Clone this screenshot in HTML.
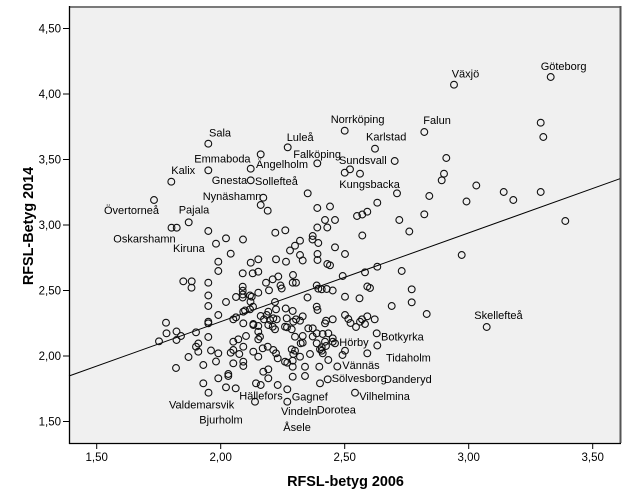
<!DOCTYPE html>
<html>
<head>
<meta charset="utf-8">
<title>RFSL scatter</title>
</head>
<body style="margin:0;padding:0;background:#fff;">
<svg width="629" height="504" viewBox="0 0 629 504" xmlns="http://www.w3.org/2000/svg" style="display:block">
<rect x="0" y="0" width="629" height="504" fill="#fff"/>
<rect x="69" y="7" width="551" height="436" fill="#f0f0f0"/>
<line x1="69" y1="7" x2="621" y2="7" stroke="#7a7a7a" stroke-width="2"/>
<line x1="620.5" y1="6" x2="620.5" y2="443" stroke="#555" stroke-width="2"/>
<line x1="69.5" y1="6" x2="69.5" y2="444" stroke="#000" stroke-width="1.3"/>
<line x1="69" y1="443.5" x2="621" y2="443.5" stroke="#000" stroke-width="1.3"/>
<g stroke="#000" stroke-width="1">
<line x1="63" y1="28.5" x2="69" y2="28.5"/>
<line x1="63" y1="94" x2="69" y2="94"/>
<line x1="63" y1="159.5" x2="69" y2="159.5"/>
<line x1="63" y1="225" x2="69" y2="225"/>
<line x1="63" y1="290.5" x2="69" y2="290.5"/>
<line x1="63" y1="356" x2="69" y2="356"/>
<line x1="63" y1="421.5" x2="69" y2="421.5"/>
<line x1="96.7" y1="443" x2="96.7" y2="449"/>
<line x1="220.7" y1="443" x2="220.7" y2="449"/>
<line x1="344.7" y1="443" x2="344.7" y2="449"/>
<line x1="468.7" y1="443" x2="468.7" y2="449"/>
<line x1="592.7" y1="443" x2="592.7" y2="449"/>
</g>
<g font-family="Liberation Sans, Arial, sans-serif" font-size="11.5" fill="#000" text-anchor="end">
<text x="61" y="32.5">4,50</text>
<text x="61" y="98">4,00</text>
<text x="61" y="163.5">3,50</text>
<text x="61" y="229">3,00</text>
<text x="61" y="294.5">2,50</text>
<text x="61" y="360">2,00</text>
<text x="61" y="425.5">1,50</text>
</g>
<g font-family="Liberation Sans, Arial, sans-serif" font-size="11.5" fill="#000" text-anchor="middle">
<text x="96.7" y="461">1,50</text>
<text x="220.7" y="461">2,00</text>
<text x="344.7" y="461">2,50</text>
<text x="468.7" y="461">3,00</text>
<text x="592.7" y="461">3,50</text>
</g>
<text x="345.5" y="486" text-anchor="middle" font-family="Liberation Sans, Arial, sans-serif" font-size="14.4" font-weight="bold" fill="#000">RFSL-betyg 2006</text>
<text transform="translate(33,226) rotate(-90)" text-anchor="middle" font-family="Liberation Sans, Arial, sans-serif" font-size="14.4" font-weight="bold" fill="#000">RFSL-Betyg 2014</text>
<line x1="69" y1="376" x2="620" y2="178.7" stroke="#000" stroke-width="1"/>
<g fill="none" stroke="#111" stroke-width="1.1">
<circle cx="454" cy="84.7" r="3.4"/><circle cx="550.7" cy="77" r="3.4"/><circle cx="540.7" cy="122.7" r="3.4"/><circle cx="543.3" cy="137" r="3.4"/>
<circle cx="344.7" cy="130.7" r="3.4"/><circle cx="424.3" cy="132" r="3.4"/><circle cx="375" cy="148.7" r="3.4"/><circle cx="208.3" cy="143.7" r="3.4"/>
<circle cx="287.7" cy="147.3" r="3.4"/><circle cx="260.7" cy="154.3" r="3.4"/><circle cx="208.3" cy="170.3" r="3.4"/><circle cx="171.3" cy="181.7" r="3.4"/>
<circle cx="250.7" cy="168.7" r="3.4"/><circle cx="317.3" cy="163.3" r="3.4"/><circle cx="394.7" cy="161" r="3.4"/><circle cx="446.3" cy="158" r="3.4"/>
<circle cx="344.7" cy="172.7" r="3.4"/><circle cx="350" cy="169.3" r="3.4"/><circle cx="360" cy="173.7" r="3.4"/><circle cx="444" cy="173.7" r="3.4"/>
<circle cx="441.7" cy="180.3" r="3.4"/><circle cx="250.7" cy="180.3" r="3.4"/><circle cx="307.7" cy="193.3" r="3.4"/><circle cx="263.3" cy="197.7" r="3.4"/>
<circle cx="154" cy="200" r="3.4"/><circle cx="260.7" cy="205" r="3.4"/><circle cx="267.7" cy="210.7" r="3.4"/><circle cx="317.3" cy="208" r="3.4"/>
<circle cx="330" cy="206.5" r="3.4"/><circle cx="397" cy="193.3" r="3.4"/><circle cx="476.3" cy="185.5" r="3.4"/><circle cx="503.7" cy="192" r="3.4"/>
<circle cx="513.3" cy="200" r="3.4"/><circle cx="540.7" cy="192" r="3.4"/><circle cx="429.3" cy="196" r="3.4"/><circle cx="466.5" cy="201.5" r="3.4"/>
<circle cx="377.3" cy="202.7" r="3.4"/><circle cx="171.5" cy="227.7" r="3.4"/><circle cx="176.7" cy="227.7" r="3.4"/><circle cx="188.7" cy="222.3" r="3.4"/>
<circle cx="208.3" cy="231" r="3.4"/><circle cx="216" cy="243.7" r="3.4"/><circle cx="226" cy="238.3" r="3.4"/><circle cx="243" cy="239.5" r="3.4"/>
<circle cx="275.3" cy="232.7" r="3.4"/><circle cx="285.3" cy="230.3" r="3.4"/><circle cx="317.3" cy="227.5" r="3.4"/><circle cx="327.3" cy="227.5" r="3.4"/>
<circle cx="325" cy="220" r="3.4"/><circle cx="335" cy="220" r="3.4"/><circle cx="312.7" cy="236" r="3.4"/><circle cx="312.5" cy="239.5" r="3.4"/>
<circle cx="300" cy="240.7" r="3.4"/><circle cx="295" cy="245.7" r="3.4"/><circle cx="290" cy="250.5" r="3.4"/><circle cx="318.3" cy="243" r="3.4"/>
<circle cx="335" cy="247.3" r="3.4"/><circle cx="357" cy="216" r="3.4"/><circle cx="362.3" cy="214.5" r="3.4"/><circle cx="367.3" cy="211.7" r="3.4"/>
<circle cx="399.3" cy="220" r="3.4"/><circle cx="424.3" cy="214.3" r="3.4"/><circle cx="409.3" cy="231.5" r="3.4"/><circle cx="362.3" cy="235.5" r="3.4"/>
<circle cx="565.3" cy="221" r="3.4"/><circle cx="230.7" cy="253.7" r="3.4"/><circle cx="218.3" cy="261.7" r="3.4"/><circle cx="218.3" cy="271" r="3.4"/>
<circle cx="250.7" cy="262.7" r="3.4"/><circle cx="258.3" cy="259.3" r="3.4"/><circle cx="242.7" cy="273.3" r="3.4"/><circle cx="252.7" cy="273.3" r="3.4"/>
<circle cx="258.3" cy="271.7" r="3.4"/><circle cx="276" cy="259.3" r="3.4"/><circle cx="286" cy="261.7" r="3.4"/><circle cx="300" cy="255" r="3.4"/>
<circle cx="302.7" cy="260.5" r="3.4"/><circle cx="317.5" cy="254" r="3.4"/><circle cx="317.5" cy="260" r="3.4"/><circle cx="327.3" cy="264" r="3.4"/>
<circle cx="330" cy="265.3" r="3.4"/><circle cx="345" cy="254" r="3.4"/><circle cx="342.7" cy="276" r="3.4"/><circle cx="365" cy="272.3" r="3.4"/>
<circle cx="377.3" cy="266.7" r="3.4"/><circle cx="401.7" cy="271" r="3.4"/><circle cx="461.7" cy="255" r="3.4"/><circle cx="293" cy="275" r="3.4"/>
<circle cx="278.3" cy="276.5" r="3.4"/><circle cx="272.7" cy="279.3" r="3.4"/><circle cx="266" cy="282.7" r="3.4"/><circle cx="280.5" cy="285.5" r="3.4"/>
<circle cx="281.7" cy="288.5" r="3.4"/><circle cx="292.7" cy="282.7" r="3.4"/><circle cx="296" cy="282.7" r="3.4"/><circle cx="269" cy="290.3" r="3.4"/>
<circle cx="258.3" cy="292.7" r="3.4"/><circle cx="242.7" cy="286.7" r="3.4"/><circle cx="242.7" cy="290.7" r="3.4"/><circle cx="242.7" cy="294.5" r="3.4"/>
<circle cx="242.7" cy="297.5" r="3.4"/><circle cx="250" cy="295.5" r="3.4"/><circle cx="251.7" cy="296.7" r="3.4"/><circle cx="226" cy="302" r="3.4"/>
<circle cx="236" cy="297" r="3.4"/><circle cx="250.5" cy="301.7" r="3.4"/><circle cx="253" cy="306.7" r="3.4"/><circle cx="250" cy="309.3" r="3.4"/>
<circle cx="245" cy="310.5" r="3.4"/><circle cx="275" cy="302" r="3.4"/><circle cx="307.5" cy="297.5" r="3.4"/><circle cx="316.7" cy="285.5" r="3.4"/>
<circle cx="318.3" cy="288.7" r="3.4"/><circle cx="321.7" cy="289.3" r="3.4"/><circle cx="326.7" cy="289" r="3.4"/><circle cx="332.7" cy="290.5" r="3.4"/>
<circle cx="316.7" cy="306.7" r="3.4"/><circle cx="317.5" cy="310" r="3.4"/><circle cx="345" cy="296.7" r="3.4"/><circle cx="359.5" cy="298.3" r="3.4"/>
<circle cx="367.3" cy="286.5" r="3.4"/><circle cx="370" cy="288" r="3.4"/><circle cx="411.7" cy="289.3" r="3.4"/><circle cx="411.7" cy="302.3" r="3.4"/>
<circle cx="391.7" cy="306" r="3.4"/><circle cx="208.3" cy="282.7" r="3.4"/><circle cx="208.3" cy="295.5" r="3.4"/><circle cx="208.3" cy="306" r="3.4"/>
<circle cx="208.3" cy="321.7" r="3.4"/><circle cx="208.3" cy="323.3" r="3.4"/><circle cx="208.3" cy="337" r="3.4"/><circle cx="183.3" cy="281.3" r="3.4"/>
<circle cx="191.7" cy="281.3" r="3.4"/><circle cx="191.5" cy="287.7" r="3.4"/><circle cx="218.3" cy="315" r="3.4"/><circle cx="285.7" cy="308.5" r="3.4"/>
<circle cx="292.7" cy="311" r="3.4"/><circle cx="286.7" cy="318.3" r="3.4"/><circle cx="293.3" cy="321.7" r="3.4"/><circle cx="296" cy="319.3" r="3.4"/>
<circle cx="302.7" cy="316.3" r="3.4"/><circle cx="300" cy="320.7" r="3.4"/><circle cx="285" cy="326.7" r="3.4"/><circle cx="287" cy="327.3" r="3.4"/>
<circle cx="291.7" cy="329.3" r="3.4"/><circle cx="308.3" cy="328.3" r="3.4"/><circle cx="312.7" cy="328.3" r="3.4"/><circle cx="326" cy="320.7" r="3.4"/>
<circle cx="325" cy="323.3" r="3.4"/><circle cx="332.7" cy="319.3" r="3.4"/><circle cx="316.7" cy="333.3" r="3.4"/><circle cx="322.7" cy="334" r="3.4"/>
<circle cx="328.3" cy="333.3" r="3.4"/><circle cx="295" cy="336.7" r="3.4"/><circle cx="302.7" cy="336" r="3.4"/><circle cx="312.7" cy="336.5" r="3.4"/>
<circle cx="332.7" cy="338.3" r="3.4"/><circle cx="300.7" cy="343.3" r="3.4"/><circle cx="302.7" cy="342.7" r="3.4"/><circle cx="325" cy="341.7" r="3.4"/>
<circle cx="326" cy="346" r="3.4"/><circle cx="335" cy="343.3" r="3.4"/><circle cx="316.7" cy="343.3" r="3.4"/><circle cx="291.7" cy="349.3" r="3.4"/>
<circle cx="295" cy="350.7" r="3.4"/><circle cx="293.3" cy="354" r="3.4"/><circle cx="320" cy="349.3" r="3.4"/><circle cx="321.7" cy="350.7" r="3.4"/>
<circle cx="322.7" cy="353.3" r="3.4"/><circle cx="310" cy="354" r="3.4"/><circle cx="328.3" cy="360" r="3.4"/><circle cx="300" cy="356.7" r="3.4"/>
<circle cx="285" cy="361.7" r="3.4"/><circle cx="287.3" cy="362.7" r="3.4"/><circle cx="292.7" cy="360.7" r="3.4"/><circle cx="292.7" cy="366.7" r="3.4"/>
<circle cx="305" cy="366.7" r="3.4"/><circle cx="319.3" cy="366.7" r="3.4"/><circle cx="292.7" cy="376.7" r="3.4"/><circle cx="305" cy="376" r="3.4"/>
<circle cx="320" cy="383.3" r="3.4"/><circle cx="327.7" cy="379.3" r="3.4"/><circle cx="287.3" cy="389.3" r="3.4"/><circle cx="287.3" cy="401.7" r="3.4"/>
<circle cx="355" cy="392.7" r="3.4"/><circle cx="367.3" cy="353.3" r="3.4"/><circle cx="377.3" cy="345.5" r="3.4"/><circle cx="376.7" cy="333.3" r="3.4"/>
<circle cx="345" cy="350.7" r="3.4"/><circle cx="342.5" cy="355" r="3.4"/><circle cx="337.3" cy="366.5" r="3.4"/><circle cx="345" cy="315" r="3.4"/>
<circle cx="348.3" cy="319" r="3.4"/><circle cx="350.5" cy="323" r="3.4"/><circle cx="356" cy="327" r="3.4"/><circle cx="360" cy="321.7" r="3.4"/>
<circle cx="362" cy="319.3" r="3.4"/><circle cx="367.3" cy="316.3" r="3.4"/><circle cx="365" cy="324" r="3.4"/><circle cx="374.7" cy="319.3" r="3.4"/>
<circle cx="426.7" cy="314" r="3.4"/><circle cx="486.7" cy="327" r="3.4"/><circle cx="332.7" cy="341.7" r="3.4"/><circle cx="321.7" cy="347.3" r="3.4"/>
<circle cx="159" cy="341.3" r="3.4"/><circle cx="166" cy="322.7" r="3.4"/><circle cx="166.5" cy="333.3" r="3.4"/><circle cx="176.5" cy="331.5" r="3.4"/>
<circle cx="176.5" cy="340" r="3.4"/><circle cx="181" cy="336" r="3.4"/><circle cx="176" cy="368" r="3.4"/><circle cx="188.5" cy="357" r="3.4"/>
<circle cx="196" cy="332.3" r="3.4"/><circle cx="198.3" cy="343.5" r="3.4"/><circle cx="196" cy="346.7" r="3.4"/><circle cx="198.3" cy="351.7" r="3.4"/>
<circle cx="203.3" cy="365" r="3.4"/><circle cx="203.3" cy="383.3" r="3.4"/><circle cx="208.5" cy="392.7" r="3.4"/><circle cx="211" cy="350.5" r="3.4"/>
<circle cx="218.3" cy="353.3" r="3.4"/><circle cx="216" cy="361.5" r="3.4"/><circle cx="218.3" cy="378.3" r="3.4"/><circle cx="228.3" cy="374" r="3.4"/>
<circle cx="228.3" cy="376" r="3.4"/><circle cx="226" cy="387.3" r="3.4"/><circle cx="233.3" cy="319.3" r="3.4"/><circle cx="236" cy="317.3" r="3.4"/>
<circle cx="243.3" cy="323.3" r="3.4"/><circle cx="253.3" cy="324" r="3.4"/><circle cx="233.3" cy="341.7" r="3.4"/><circle cx="238.3" cy="339.3" r="3.4"/>
<circle cx="246" cy="336" r="3.4"/><circle cx="243.3" cy="346.7" r="3.4"/><circle cx="233.3" cy="350" r="3.4"/><circle cx="230.7" cy="352.7" r="3.4"/>
<circle cx="239.3" cy="354" r="3.4"/><circle cx="243.3" cy="361.7" r="3.4"/><circle cx="243.3" cy="366" r="3.4"/><circle cx="233.3" cy="363.3" r="3.4"/>
<circle cx="253.3" cy="351.7" r="3.4"/><circle cx="258.3" cy="356.7" r="3.4"/><circle cx="262.7" cy="348.3" r="3.4"/><circle cx="267.7" cy="346.7" r="3.4"/>
<circle cx="273.3" cy="350" r="3.4"/><circle cx="276" cy="353.3" r="3.4"/><circle cx="277.7" cy="358.3" r="3.4"/><circle cx="235.7" cy="388.3" r="3.4"/>
<circle cx="263.3" cy="371.7" r="3.4"/><circle cx="268.3" cy="369.3" r="3.4"/><circle cx="268.3" cy="378.3" r="3.4"/><circle cx="256" cy="383.3" r="3.4"/>
<circle cx="260.7" cy="385" r="3.4"/><circle cx="277.7" cy="385" r="3.4"/><circle cx="255" cy="401.7" r="3.4"/><circle cx="243.3" cy="311.7" r="3.4"/>
<circle cx="260.7" cy="316" r="3.4"/><circle cx="264" cy="319.3" r="3.4"/><circle cx="266.7" cy="315" r="3.4"/><circle cx="268.3" cy="311.7" r="3.4"/>
<circle cx="273.3" cy="318.3" r="3.4"/><circle cx="276" cy="309.3" r="3.4"/><circle cx="268.3" cy="325" r="3.4"/><circle cx="275" cy="329.3" r="3.4"/>
<circle cx="258.3" cy="331.7" r="3.4"/><circle cx="260" cy="336.7" r="3.4"/><circle cx="258.3" cy="339.3" r="3.4"/><circle cx="270" cy="320" r="3.4"/>
<circle cx="272.7" cy="326.7" r="3.4"/><circle cx="276.7" cy="319.3" r="3.4"/><circle cx="253.3" cy="325" r="3.4"/><circle cx="258.3" cy="326" r="3.4"/>
</g>
<g font-family="Liberation Sans, Arial, sans-serif" font-size="11" fill="#000">
<text x="451.7" y="77.5">Växjö</text>
<text x="540.7" y="70">Göteborg</text>
<text x="330.7" y="123">Norrköping</text>
<text x="423.3" y="124">Falun</text>
<text x="366" y="140.7">Karlstad</text>
<text x="339" y="164">Sundsvall</text>
<text x="293.3" y="158">Falköping</text>
<text x="339.3" y="188">Kungsbacka</text>
<text x="209" y="136.5">Sala</text>
<text x="286.7" y="141">Luleå</text>
<text x="194.3" y="162.5">Emmaboda</text>
<text x="256" y="168">Ängelholm</text>
<text x="171.3" y="174">Kalix</text>
<text x="211.7" y="184">Gnesta</text>
<text x="255" y="185">Sollefteå</text>
<text x="202.7" y="200">Nynäshamn</text>
<text x="104" y="214">Övertorneå</text>
<text x="178.7" y="213.5">Pajala</text>
<text x="113.3" y="242.5">Oskarshamn</text>
<text x="173" y="252">Kiruna</text>
<text x="474.3" y="319">Skellefteå</text>
<text x="381" y="340.7">Botkyrka</text>
<text x="339.3" y="346">Hörby</text>
<text x="386" y="361.7">Tidaholm</text>
<text x="342.3" y="369">Vännäs</text>
<text x="331.7" y="382">Sölvesborg</text>
<text x="384" y="383">Danderyd</text>
<text x="359.3" y="400">Vilhelmina</text>
<text x="316.7" y="413.3">Dorotea</text>
<text x="169" y="408.3">Valdemarsvik</text>
<text x="239.3" y="399.3">Hällefors</text>
<text x="291.7" y="400.3">Gagnef</text>
<text x="281" y="415">Vindeln</text>
<text x="199.3" y="423.3">Bjurholm</text>
<text x="283.3" y="431">Åsele</text>
</g>
</svg>
</body>
</html>
